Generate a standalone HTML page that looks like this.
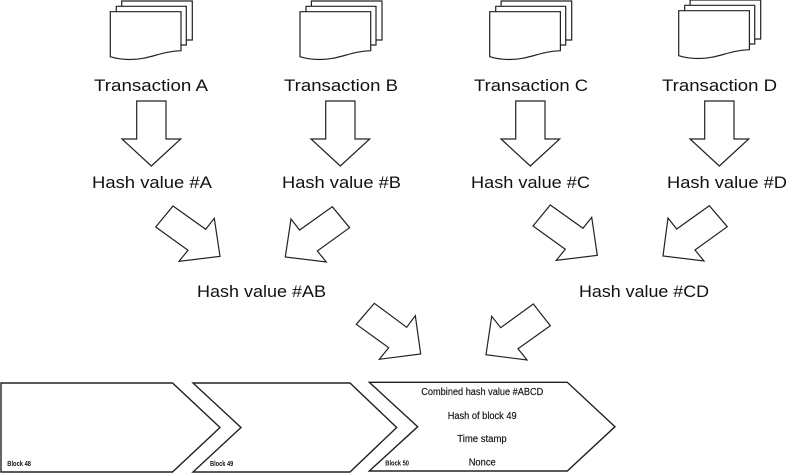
<!DOCTYPE html>
<html>
<head>
<meta charset="utf-8">
<style>
html,body{margin:0;padding:0;background:#fff;width:787px;height:473px;overflow:hidden}
svg{display:block}
text{font-family:"Liberation Sans",sans-serif;fill:#111}
.l{font-size:17px}
.m{font-size:10px;stroke:#111;stroke-width:.15}
.s{font-size:7px;font-weight:bold}
.a{fill:#fff;stroke:#222;stroke-width:1.2}
.b{fill:#fff;stroke:#222;stroke-width:1.4}
</style>
</head>
<body>
<svg width="787" height="473" viewBox="0 0 787 473" xmlns="http://www.w3.org/2000/svg">
<defs>
<g id="doc">
<path class="a" d="M121.7 1H192.3V40H121.7Z"/>
<path class="a" d="M116.3 6.3H186.3V45H116.3Z"/>
<path class="a" d="M110.3 11.7H181V50.7C160 51.5 150 59.5 130 59.5C122 59.5 116 58.5 110.3 56.7Z"/>
</g>
<polygon id="down" class="a" points="136.7,101 166,101 166,139 180.7,139 151.3,166 122,139 136.7,139"/>
</defs>
<use href="#doc"/>
<use href="#doc" x="189.7"/>
<use href="#doc" x="379.4"/>
<use href="#doc" x="568.4" y="-1"/>
<use href="#down"/>
<use href="#down" x="189"/>
<use href="#down" x="379"/>
<use href="#down" x="568"/>
<polygon class="a" points="173,206 205.7,229.3 214.3,218.3 220,256.3 179,261.3 188,250.3 155.7,227"/>
<polygon class="a" points="332.3,206.7 299.6,230 291,219 285.3,257 326.3,262 317.3,251 349.6,227.7"/>
<polygon class="a" points="550.3,205 583,228.3 591.7,217.3 597.3,255.3 556.3,260.3 565.3,249.3 533,226"/>
<polygon class="a" points="709.3,205.7 676.7,229 668,218 663,256 704,261 695,250 727.3,226.7"/>
<polygon class="a" points="374.3,303.3 406.7,327.3 415.3,315.7 420.7,354 379.3,359.3 388.7,347.7 356.3,324.3"/>
<polygon class="a" points="533.3,304 500.7,327.7 491.7,316.3 486,354.7 527,360 518,348.7 550.3,325.7"/>
<polygon class="b" points="1,383 172.5,383 220,427.5 172.5,472 1,472"/>
<polygon class="b" points="193,383 350,383 396.7,427.5 350,472 193,472 241,427.5"/>
<polygon class="b" points="369.3,382.3 567.3,382.3 615,426.7 567.3,471 369.3,471 417.7,426.7"/>
<text class="l" x="94" y="91" textLength="114" lengthAdjust="spacingAndGlyphs">Transaction A</text>
<text class="l" x="284" y="91" textLength="114" lengthAdjust="spacingAndGlyphs">Transaction B</text>
<text class="l" x="474" y="91" textLength="114" lengthAdjust="spacingAndGlyphs">Transaction C</text>
<text class="l" x="662" y="91" textLength="115" lengthAdjust="spacingAndGlyphs">Transaction D</text>
<text class="l" x="92" y="188" textLength="120" lengthAdjust="spacingAndGlyphs">Hash value #A</text>
<text class="l" x="282" y="188" textLength="119" lengthAdjust="spacingAndGlyphs">Hash value #B</text>
<text class="l" x="471" y="188" textLength="119" lengthAdjust="spacingAndGlyphs">Hash value #C</text>
<text class="l" x="667" y="188" textLength="120" lengthAdjust="spacingAndGlyphs">Hash value #D</text>
<text class="l" x="197" y="297" textLength="129" lengthAdjust="spacingAndGlyphs">Hash value #AB</text>
<text class="l" x="579" y="297" textLength="130" lengthAdjust="spacingAndGlyphs">Hash value #CD</text>
<text class="m" x="421.3" y="395" textLength="122" lengthAdjust="spacingAndGlyphs">Combined hash value #ABCD</text>
<text class="m" x="447.7" y="419" textLength="69" lengthAdjust="spacingAndGlyphs">Hash of block 49</text>
<text class="m" x="457.3" y="442" textLength="49.4" lengthAdjust="spacingAndGlyphs">Time stamp</text>
<text class="m" x="468.7" y="465.7" textLength="27" lengthAdjust="spacingAndGlyphs">Nonce</text>
<text class="s" x="7.3" y="466" textLength="23.7" lengthAdjust="spacingAndGlyphs">Block 48</text>
<text class="s" x="210" y="466" textLength="23.3" lengthAdjust="spacingAndGlyphs">Block 49</text>
<text class="s" x="385.3" y="465.7" textLength="23.7" lengthAdjust="spacingAndGlyphs">Block 50</text>
</svg>
</body>
</html>
